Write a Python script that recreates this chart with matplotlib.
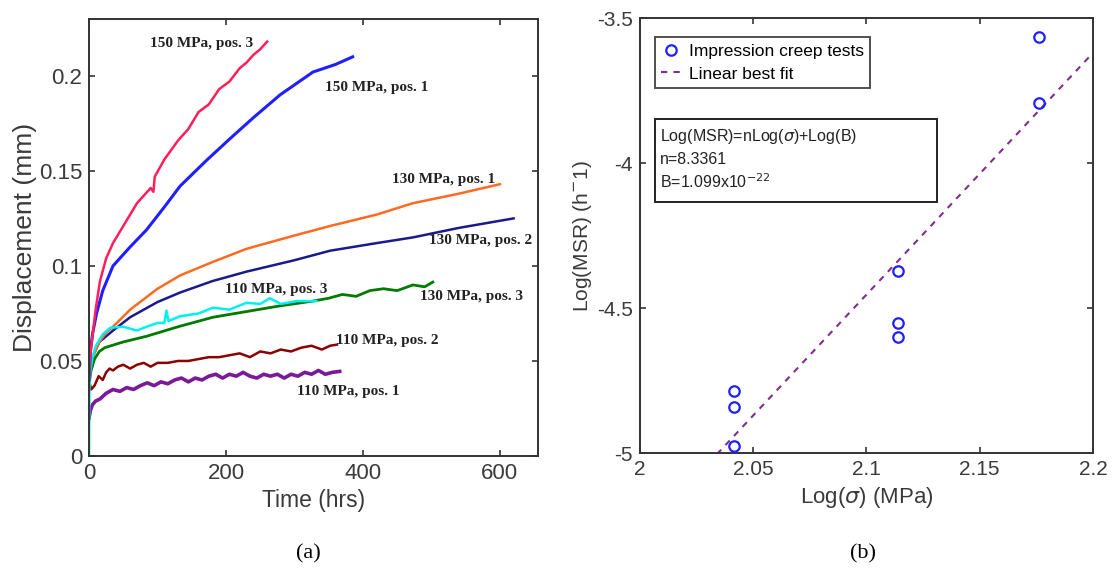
import numpy as np
import matplotlib.pyplot as plt
from matplotlib.patches import Rectangle

# ---- (a) displacement vs time ----
t_150_3 = [0, 1, 3, 6, 10, 16, 25, 35, 50, 70, 90, 94, 96, 110, 120, 130, 145, 160, 175, 190, 205, 220, 230, 240, 250, 260]
d_150_3 = [0.040, 0.050, 0.057, 0.066, 0.078, 0.092, 0.104, 0.112, 0.121, 0.133, 0.141, 0.139, 0.147, 0.156, 0.161, 0.166, 0.172, 0.181, 0.185, 0.193, 0.197, 0.204, 0.207, 0.211, 0.214, 0.218]

t_150_1 = [0, 2, 5, 11, 20, 35, 60, 84, 110, 133, 170, 206, 240, 279, 327, 360, 385]
d_150_1 = [0.040, 0.055, 0.064, 0.075, 0.087, 0.100, 0.110, 0.119, 0.131, 0.142, 0.155, 0.167, 0.178, 0.190, 0.202, 0.206, 0.210]

t_130_1 = [0, 5, 15, 25, 35, 60, 100, 133, 180, 230, 300, 352, 420, 473, 540, 600]
d_130_1 = [0.040, 0.052, 0.060, 0.065, 0.068, 0.077, 0.088, 0.095, 0.102, 0.109, 0.116, 0.121, 0.127, 0.133, 0.138, 0.143]

t_130_2 = [0, 5, 15, 35, 60, 100, 133, 180, 230, 300, 352, 420, 473, 540, 620]
d_130_2 = [0.040, 0.052, 0.060, 0.066, 0.073, 0.081, 0.086, 0.092, 0.097, 0.103, 0.108, 0.112, 0.115, 0.120, 0.125]

t_130_3 = [0, 3, 8, 15, 23, 50, 84, 130, 181, 230, 279, 327, 350, 370, 390, 410, 430, 450, 473, 490, 502]
d_130_3 = [0.038, 0.045, 0.051, 0.055, 0.057, 0.060, 0.063, 0.068, 0.073, 0.076, 0.079, 0.0815, 0.083, 0.085, 0.084, 0.087, 0.088, 0.087, 0.090, 0.089, 0.0915]

t_110_3 = [0, 0.5, 2, 5, 10, 20, 31, 50, 70, 84, 100, 110, 113, 116, 133, 160, 181, 205, 230, 250, 264, 280, 303, 332]
d_110_3 = [0.0, 0.035, 0.045, 0.052, 0.058, 0.064, 0.0675, 0.068, 0.066, 0.068, 0.070, 0.070, 0.0765, 0.071, 0.0735, 0.075, 0.078, 0.077, 0.0806, 0.080, 0.083, 0.080, 0.0815, 0.0815]

t_110_2 = [0, 3, 8, 14, 20, 25, 30, 35, 42, 50, 60, 70, 80, 90, 100, 115, 130, 145, 160, 175, 190, 205, 220, 235, 250, 265, 280, 295, 310, 325, 340, 352, 362]
d_110_2 = [0.040, 0.035, 0.037, 0.042, 0.040, 0.044, 0.046, 0.045, 0.047, 0.048, 0.046, 0.048, 0.049, 0.047, 0.049, 0.049, 0.050, 0.050, 0.051, 0.052, 0.052, 0.053, 0.054, 0.052, 0.055, 0.054, 0.056, 0.055, 0.057, 0.058, 0.056, 0.058, 0.0586]

t_110_1 = [0, 2, 5, 10, 16, 25, 35, 45, 55, 65, 75, 85, 95, 105, 115, 125, 135, 145, 155, 165, 175, 185, 195, 205, 215, 225, 235, 245, 255, 265, 275, 285, 295, 305, 315, 325, 335, 345, 355, 366]
d_110_1 = [0.020, 0.024, 0.027, 0.029, 0.030, 0.033, 0.035, 0.034, 0.036, 0.035, 0.037, 0.0385, 0.037, 0.039, 0.038, 0.040, 0.041, 0.039, 0.041, 0.040, 0.042, 0.043, 0.041, 0.043, 0.042, 0.044, 0.042, 0.041, 0.043, 0.042, 0.043, 0.041, 0.043, 0.042, 0.044, 0.043, 0.045, 0.043, 0.044, 0.0445]

curves = [
    (t_110_1, d_110_1, '#7a1a99', 2.6, '110 MPa, pos. 1', 304, 0.0338),
    (t_110_2, d_110_2, '#8b0000', 1.8, '110 MPa, pos. 2', 361, 0.0607),
    (t_130_2, d_130_2, '#1a1a8a', 1.8, '130 MPa, pos. 2', 496, 0.1135),
    (t_130_1, d_130_1, '#ff6a21', 1.8, '130 MPa, pos. 1', 442, 0.1456),
    (t_130_3, d_130_3, '#007a00', 2.0, '130 MPa, pos. 3', 483, 0.0839),
    (t_110_3, d_110_3, '#00f0f0', 1.8, '110 MPa, pos. 3', 199, 0.0876),
    (t_150_1, d_150_1, '#1f1fff', 2.2, '150 MPa, pos. 1', 345, 0.1937),
    (t_150_3, d_150_3, '#ff1f5a', 1.8, '150 MPa, pos. 3', 89, 0.217),
]

# ---- (b) log-log creep data ----
log_sigma = [2.0414, 2.0414, 2.0414, 2.1139, 2.1139, 2.1139, 2.1761, 2.1761]
log_msr = [-4.786, -4.841, -4.976, -4.372, -4.552, -4.600, -3.564, -3.792]
n_fit = 8.3361
B_fit = 1.099e-22

sans = 'Liberation Sans'
serif = 'Liberation Serif'
grey = '#3a3a3a'

fig = plt.figure(figsize=(11.13, 5.70), dpi=100)

def style(ax, size):
    for s in ax.spines.values():
        s.set_linewidth(1.4)
        s.set_color('#333333')
    ax.tick_params(direction='in', top=True, right=True, length=4, width=1.2,
                   labelsize=size, colors='#333333', labelcolor=grey, pad=5)
    for lab in ax.get_xticklabels() + ax.get_yticklabels():
        lab.set_family(sans)

ax1 = fig.add_axes([0.080, 0.200, 0.403, 0.767])
for t, d, c, lw, lab, tx, ty in curves:
    ax1.plot(t, d, color=c, lw=lw)
    ax1.text(tx, ty, lab, family=serif, fontweight='bold', fontsize=11,
             color='#222222', ha='left', va='center')
ax1.set_xlim(0, 655)
ax1.set_ylim(0, 0.23)
ax1.set_xticks([0, 200, 400, 600])
ax1.set_yticks([0, 0.05, 0.1, 0.15, 0.2])
ax1.set_yticklabels(['0', '0.05', '0.1', '0.15', '0.2'])
style(ax1, 16)
ax1.set_xlabel('Time (hrs)', family=sans, fontsize=16.5, color=grey, labelpad=4)
ax1.set_ylabel('Displacement (mm)', family=sans, fontsize=19, color=grey, labelpad=1)

ax2 = fig.add_axes([0.575, 0.205, 0.407, 0.763])
xf = np.array([2.0, 2.2])
ax2.plot(log_sigma, log_msr, 'o', mfc='none', mec='#1f1fff', ms=7.5, mew=1.6,
         label='Impression creep tests', clip_on=False, zorder=3)
ax2.plot(xf, n_fit * xf + np.log10(B_fit), '--', color='#7e2f8e', lw=1.5,
         dashes=(3, 3), label='Linear best fit')
ax2.set_xlim(2.0, 2.2)
ax2.set_ylim(-5, -3.5)
ax2.set_xticks([2, 2.05, 2.1, 2.15, 2.2])
ax2.set_xticklabels(['2', '2.05', '2.1', '2.15', '2.2'])
ax2.set_yticks([-5, -4.5, -4, -3.5])
ax2.set_yticklabels(['-5', '-4.5', '-4', '-3.5'])
style(ax2, 15)
ax2.set_xlabel(r'Log($\sigma$) (MPa)', family=sans, fontsize=16, color=grey, labelpad=4)
ax2.set_ylabel('Log(MSR) (h$^{-}$1)', family=sans, fontsize=15, color=grey, labelpad=2)

leg = ax2.legend(loc='upper left', bbox_to_anchor=(0.033, 0.956), borderaxespad=0,
                 prop={'family': sans, 'size': 12.5}, fancybox=False, frameon=True,
                 handlelength=1.2, handletextpad=0.4, borderpad=0.35, labelspacing=0.45)
leg.get_frame().set_edgecolor('#222222')
leg.get_frame().set_linewidth(1.4)

ax2.add_patch(Rectangle((0.033, 0.577), 0.623, 0.191, transform=ax2.transAxes,
                        fill=False, ec='#222222', lw=1.4, zorder=4))
box_lines = [r'Log(MSR)=nLog($\sigma$)+Log(B)', 'n=%.4f' % n_fit,
             r'B=1.099x10$^{-22}$']
for i, s in enumerate(box_lines):
    ax2.text(0.045, 0.727 - i * 0.051, s, transform=ax2.transAxes, family=sans,
             fontsize=11.5, color='#222222', va='center', ha='left')

fig.text(0.277, 0.028, '(a)', family=serif, fontsize=16, ha='center', va='center')
fig.text(0.775, 0.028, '(b)', family=serif, fontsize=16, ha='center', va='center')

fig.savefig('out.png', dpi=100)
